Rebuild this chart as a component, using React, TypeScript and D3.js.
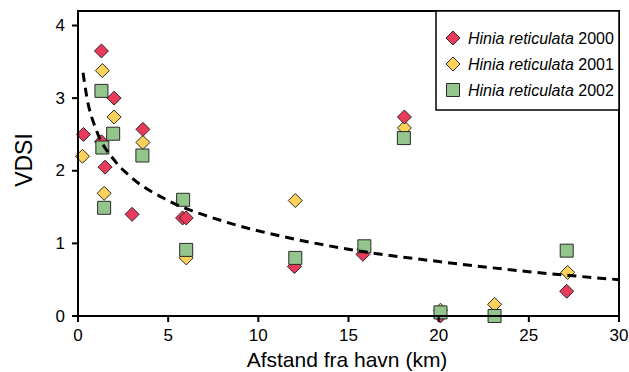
import React from "react";
import * as d3 from "d3";

// Series 2000 (red diamonds)
const x2000 = [0.3, 1.3, 2.0, 1.5, 1.3, 3.6, 3.0, 5.8, 6.0, 12.0, 15.8, 18.1, 27.1, 20.1, 23.1];
const y2000 = [2.5, 3.65, 3.0, 2.05, 2.4, 2.57, 1.4, 1.35, 1.35, 0.68, 0.85, 2.74, 0.34, 0.0, 0.0];
// Series 2001 (yellow diamonds)
const x2001 = [0.25, 1.35, 2.0, 3.6, 1.45, 6.0, 12.05, 18.1, 27.15, 23.1, 20.1, 15.85];
const y2001 = [2.2, 3.38, 2.74, 2.39, 1.69, 0.8, 1.59, 2.59, 0.6, 0.16, 0.08, 0.92];
// Series 2002 (green squares)
const x2002 = [1.3, 1.35, 1.95, 3.57, 1.45, 5.83, 6.0, 12.05, 15.88, 18.07, 27.1, 20.1, 23.1];
const y2002 = [3.1, 2.32, 2.51, 2.21, 1.49, 1.6, 0.91, 0.8, 0.96, 2.45, 0.9, 0.05, 0.0];
// Trend line
const trendX = [0.28, 0.5, 1, 2, 3, 5, 8, 12, 16, 20, 25, 30];
const trendY = [3.35, 3.0, 2.57, 2.15, 1.9, 1.59, 1.31, 1.06, 0.88, 0.75, 0.61, 0.5];

const xTicks = [0, 5, 10, 15, 20, 25, 30];
const yTicks = [0, 1, 2, 3, 4];
const legendYears = ["2000", "2001", "2002"];

const RED = "#EA3A5C";
const YELLOW = "#FCD25A";
const GREEN = "#93C58C";
const STROKE = "#2a2a2a";

const diamond = (s: number) => `M0,${-s}L${s},0L0,${s}L${-s},0Z`;
const square = (s: number) => `M${-s},${-s}H${s}V${s}H${-s}Z`;

export default function App() {
  const W = 629, H = 372;
  const left = 78, right = 619, top = 11, bottom = 316;
  const x = d3.scaleLinear().domain([0, 30]).range([left, right]);
  const y = d3.scaleLinear().domain([0, 4.2]).range([bottom, top]);
  const font = "'Liberation Sans', Arial, Helvetica, sans-serif";

  const line = d3
    .line<number>()
    .x((_, i) => x(trendX[i]))
    .y((d) => y(d))
    .curve(d3.curveMonotoneX);

  const pts = (xs: number[], ys: number[]) => xs.map((v, i) => [x(v), y(ys[i])]);

  const series = [
    { xs: x2001, ys: y2001, fill: YELLOW, shape: diamond(7) },
    { xs: x2000, ys: y2000, fill: RED, shape: diamond(7) },
    { xs: x2002, ys: y2002, fill: GREEN, shape: square(6.5) },
  ];
  const legend = [
    { fill: RED, shape: diamond(7) },
    { fill: YELLOW, shape: diamond(7) },
    { fill: GREEN, shape: square(6.5) },
  ];

  return (
    <svg width={W} height={H} style={{ position: "absolute", left: 0, top: 0, background: "#fff" }} fontFamily={font}>
      {/* markers */}
      {series.map((s, si) => (
        <g key={si}>
          {pts(s.xs, s.ys).map(([px, py], i) => (
            <path key={i} d={s.shape} transform={`translate(${px},${py})`} fill={s.fill} stroke={STROKE} strokeWidth={1} />
          ))}
        </g>
      ))}
      {/* trend */}
      <path d={line(trendY) || ""} fill="none" stroke="#000" strokeWidth={3} strokeDasharray="9,6" />
      {/* frame */}
      <rect x={left} y={top} width={right - left} height={bottom - top} fill="none" stroke="#000" strokeWidth={2} />
      {/* y ticks */}
      {yTicks.map((t) => (
        <g key={t}>
          <line x1={left - 6} x2={left} y1={y(t)} y2={y(t)} stroke="#000" strokeWidth={2} />
          <text x={left - 13} y={y(t)} textAnchor="end" dominantBaseline="central" fontSize={17} fill="#000">
            {t}
          </text>
        </g>
      ))}
      {/* x ticks */}
      {xTicks.map((t) => (
        <g key={t}>
          <line x1={x(t)} x2={x(t)} y1={bottom} y2={bottom + 6} stroke="#000" strokeWidth={2} />
          <text x={x(t)} y={341} textAnchor="middle" fontSize={17} fill="#000">
            {t}
          </text>
        </g>
      ))}
      <text x={347} y={367} textAnchor="middle" fontSize={21} fill="#000">
        Afstand fra havn (km)
      </text>
      <text transform={`translate(32,160) rotate(-90)`} textAnchor="middle" fontSize={23} fill="#000">
        VDSI
      </text>
      {/* legend */}
      <rect x={436} y={top} width={right - 436} height={110 - top} fill="#fff" stroke="#000" strokeWidth={1.5} />
      {legendYears.map((yr, i) => (
        <g key={yr} transform={`translate(453,${38 + i * 26})`}>
          <path d={legend[i].shape} fill={legend[i].fill} stroke={STROKE} strokeWidth={1} />
          <text x={15} y={0} dominantBaseline="central" fontSize={16} fill="#000">
            <tspan fontStyle="italic">Hinia reticulata</tspan>
            <tspan> {yr}</tspan>
          </text>
        </g>
      ))}
    </svg>
  );
}
